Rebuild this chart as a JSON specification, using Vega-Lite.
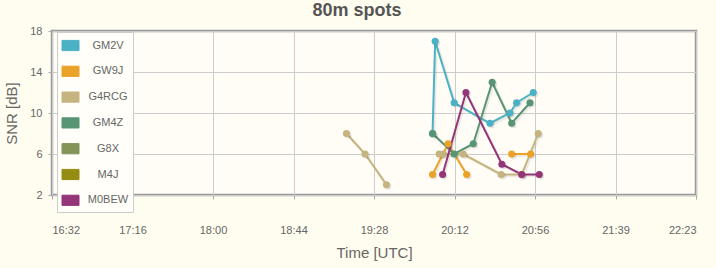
{
  "$schema": "https://vega.github.io/schema/vega-lite/v6.json",
  "autosize": {"type": "none"},
  "width": 644,
  "height": 164,
  "padding": {"left": 52, "top": 31, "right": 20, "bottom": 73},
  "background": "#fffdf0",
  "title": {
    "text": "80m spots",
    "anchor": "middle",
    "frame": "group",
    "dx": -17,
    "dy": 13,
    "baseline": "alphabetic",
    "offset": 4,
    "font": "Liberation Sans",
    "fontSize": 18,
    "fontWeight": "bold",
    "color": "#555555"
  },
  "config": {
    "view": {"stroke": "#999999", "strokeWidth": 2.5, "fill": "#fffdf6"},
    "axis": {
      "labelFont": "Liberation Sans",
      "labelFontSize": 11,
      "labelColor": "#666666",
      "titleFont": "Liberation Sans",
      "titleFontSize": 15,
      "titleFontWeight": "normal",
      "titleColor": "#666666",
      "gridColor": "#cccccc",
      "gridWidth": 1,
      "domain": false,
      "tickColor": "#aaaaaa",
      "tickSize": 4
    }
  },
  "data": {
    "values": [
      {"call": "GM2V", "seg": 1, "time": "20:00:12", "snr": 8},
      {"call": "GM2V", "seg": 1, "time": "20:01:38", "snr": 17},
      {"call": "GM2V", "seg": 1, "time": "20:12:00", "snr": 11},
      {"call": "GM2V", "seg": 1, "time": "20:31:30", "snr": 9},
      {"call": "GM2V", "seg": 1, "time": "20:42:24", "snr": 10},
      {"call": "GM2V", "seg": 1, "time": "20:46:00", "snr": 11},
      {"call": "GM2V", "seg": 1, "time": "20:55:06", "snr": 12},
      {"call": "GW9J", "seg": 1, "time": "20:00:12", "snr": 4},
      {"call": "GW9J", "seg": 1, "time": "20:08:42", "snr": 7},
      {"call": "GW9J", "seg": 1, "time": "20:18:48", "snr": 4},
      {"call": "GW9J", "seg": 2, "time": "20:43:18", "snr": 6},
      {"call": "GW9J", "seg": 2, "time": "20:53:42", "snr": 6},
      {"call": "G4RCG", "seg": 1, "time": "19:13:18", "snr": 8},
      {"call": "G4RCG", "seg": 1, "time": "19:23:24", "snr": 6},
      {"call": "G4RCG", "seg": 1, "time": "19:35:06", "snr": 3},
      {"call": "G4RCG", "seg": 2, "time": "20:03:48", "snr": 6},
      {"call": "G4RCG", "seg": 2, "time": "20:06:00", "snr": 6},
      {"call": "G4RCG", "seg": 2, "time": "20:16:54", "snr": 6},
      {"call": "G4RCG", "seg": 2, "time": "20:37:36", "snr": 4},
      {"call": "G4RCG", "seg": 2, "time": "20:48:48", "snr": 4},
      {"call": "G4RCG", "seg": 2, "time": "20:57:48", "snr": 8},
      {"call": "GM4Z", "seg": 1, "time": "20:00:12", "snr": 8},
      {"call": "GM4Z", "seg": 1, "time": "20:12:00", "snr": 6},
      {"call": "GM4Z", "seg": 1, "time": "20:22:24", "snr": 7},
      {"call": "GM4Z", "seg": 1, "time": "20:32:42", "snr": 13},
      {"call": "GM4Z", "seg": 1, "time": "20:43:18", "snr": 9},
      {"call": "GM4Z", "seg": 1, "time": "20:53:18", "snr": 11},
      {"call": "M0BEW", "seg": 1, "time": "20:05:42", "snr": 4},
      {"call": "M0BEW", "seg": 1, "time": "20:18:24", "snr": 12},
      {"call": "M0BEW", "seg": 1, "time": "20:38:00", "snr": 5},
      {"call": "M0BEW", "seg": 1, "time": "20:48:48", "snr": 4},
      {"call": "M0BEW", "seg": 1, "time": "20:58:24", "snr": 4}
    ],
    "format": {"parse": {"time": "date:'%H:%M:%S'"}}
  },
  "encoding": {
    "x": {
      "field": "time",
      "type": "temporal",
      "scale": {
        "domain": [
          {"year": 1900, "month": 1, "date": 1, "hours": 16, "minutes": 32, "seconds": 48},
          {"year": 1900, "month": 1, "date": 1, "hours": 22, "minutes": 23, "seconds": 48}
        ]
      },
      "axis": {
        "values": [
          {"year": 1900, "month": 1, "date": 1, "hours": 16, "minutes": 32, "seconds": 48},
          {"year": 1900, "month": 1, "date": 1, "hours": 17, "minutes": 16, "seconds": 40, "milliseconds": 500},
          {"year": 1900, "month": 1, "date": 1, "hours": 18, "minutes": 0, "seconds": 33},
          {"year": 1900, "month": 1, "date": 1, "hours": 18, "minutes": 44, "seconds": 25, "milliseconds": 500},
          {"year": 1900, "month": 1, "date": 1, "hours": 19, "minutes": 28, "seconds": 18},
          {"year": 1900, "month": 1, "date": 1, "hours": 20, "minutes": 12, "seconds": 10, "milliseconds": 500},
          {"year": 1900, "month": 1, "date": 1, "hours": 20, "minutes": 56, "seconds": 3},
          {"year": 1900, "month": 1, "date": 1, "hours": 21, "minutes": 39, "seconds": 55, "milliseconds": 500},
          {"year": 1900, "month": 1, "date": 1, "hours": 22, "minutes": 23, "seconds": 48}
        ],
        "format": "%H:%M",
        "labelPadding": 25,
        "labelBaseline": "top",
        "title": "Time [UTC]",
        "titlePadding": 10
      }
    },
    "y": {
      "field": "snr",
      "type": "quantitative",
      "scale": {"domain": [2, 18]},
      "axis": {
        "values": [2, 6, 10, 14, 18],
        "labelPadding": 6,
        "title": "SNR [dB]",
        "titlePadding": 10
      }
    }
  },
  "layer": [
    {
      "mark": {"type": "line", "color": "#000000", "opacity": 0.08, "strokeWidth": 2.5, "xOffset": 1.5, "yOffset": 1.5},
      "encoding": {"detail": [{"field": "call"}, {"field": "seg"}]}
    },
    {
      "mark": {"type": "line", "strokeWidth": 2},
      "encoding": {
        "color": {
          "field": "call",
          "type": "nominal",
          "scale": {
            "domain": ["GM2V", "GW9J", "G4RCG", "GM4Z", "G8X", "M4J", "M0BEW"],
            "range": ["#4bb2c5", "#eaa228", "#c5b47f", "#579575", "#839557", "#958c12", "#953579"]
          },
          "legend": {
            "orient": "none",
            "legendX": 5,
            "legendY": 1,
            "title": null,
            "direction": "vertical",
            "fillColor": "#fffef8",
            "strokeColor": "#cccccc",
            "padding": 4.5,
            "rowPadding": 8.8,
            "symbolType": "M-1,-0.6H1V0.6H-1Z",
            "symbolSize": 289,
            "symbolOpacity": 1,
            "labelAlign": "center",
            "labelOffset": 28.5,
            "labelFont": "Liberation Sans",
            "labelFontSize": 11,
            "labelColor": "#666666",
            "encode": {
              "symbols": {
                "update": {
                  "stroke": {"value": "#cccccc"},
                  "strokeWidth": {"value": 1}
                }
              }
            }
          }
        },
        "detail": {"field": "seg"}
      }
    },
    {
      "mark": {"type": "circle", "color": "#000000", "opacity": 0.1, "size": 50, "xOffset": 1.5, "yOffset": 1.5},
      "encoding": {}
    },
    {
      "mark": {"type": "circle", "size": 50, "opacity": 1},
      "encoding": {
        "color": {"field": "call", "type": "nominal"}
      }
    }
  ]
}
